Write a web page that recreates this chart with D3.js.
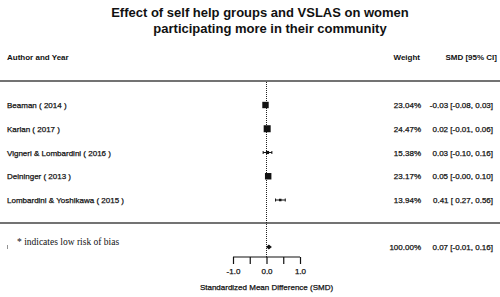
<!DOCTYPE html>
<html lang="en">
<head>
    <meta charset="UTF-8">
    <title>Forest plot</title>
    <script src="https://d3js.org/d3.v7.min.js"></script>
    <style>
        body { margin: 0; background: #fff; }
        svg text { font-family: "Liberation Sans", Arial, sans-serif; fill: #111; }
        .title { font-size: 13px; font-weight: bold; }
        .head { font-size: 8px; font-weight: bold; }
        .row { font-size: 8px; stroke: #111; stroke-width: 0.25px; }
    </style>
</head>
<body>
    <div id="chart"></div>

    <script>
        // study data
        const studies = ["Beaman ( 2014 )", "Karlan ( 2017 )", "Vigneri & Lombardini ( 2016 )",
                         "Deininger ( 2013 )", "Lombardini & Yoshikawa ( 2015 )"];
        const weights = [23.04, 24.47, 15.38, 23.17, 13.94];
        const smd = [-0.03, 0.02, 0.03, 0.05, 0.41];
        const ciLow = [-0.08, -0.01, -0.10, -0.00, 0.27];
        const ciHigh = [0.03, 0.06, 0.16, 0.10, 0.56];

        // pooled estimate
        const pooled = { weight: 100.00, est: 0.07, lo: -0.01, hi: 0.16 };

        const xTicks = [-1.0, -0.5, 0.0, 0.5, 1.0];
        const xTickLabels = ["-1.0", "", "0.0", "", "1.0"];

        const width = 500, height = 297;

        const svg = d3.select("#chart").append("svg")
            .attr("width", width)
            .attr("height", height);

        const x = d3.scaleLinear().domain([-1, 1]).range([233, 300]);
        const y = d3.scalePoint().domain(studies).range([105, 200]);
        const boxSize = d3.scaleLinear().domain([13.94, 24.47]).range([2.5, 7]);

        // plain hyphen minus, and keep the sign of -0.00
        const fmt = v => (v < 0 || Object.is(v, -0) ? "-" : "") + Math.abs(v).toFixed(2);
        const ciText = d => fmt(d.e) + " [" + (d.lo > 0 ? " " : "") + fmt(d.lo) + ", " + fmt(d.hi) + "]";

        // title
        svg.append("text").attr("class", "title")
            .attr("x", 260).attr("y", 17).attr("text-anchor", "middle")
            .text("Effect of self help groups and VSLAS on women");
        svg.append("text").attr("class", "title")
            .attr("x", 270).attr("y", 33).attr("text-anchor", "middle")
            .text("participating more in their community");

        // column headers
        svg.append("text").attr("class", "head").attr("x", 7).attr("y", 60).text("Author and Year");
        svg.append("text").attr("class", "head").attr("x", 420).attr("y", 60).attr("text-anchor", "end").text("Weight");
        svg.append("text").attr("class", "head").attr("x", 497).attr("y", 60).attr("text-anchor", "end").text("SMD [95% CI]");

        // separator lines
        [81, 223].forEach(ly => {
            svg.append("line").attr("x1", 0).attr("x2", 500).attr("y1", ly).attr("y2", ly)
                .attr("stroke", "#444").attr("stroke-width", 1.5);
        });

        // zero reference line
        svg.append("line")
            .attr("x1", x(0)).attr("x2", x(0))
            .attr("y1", 82).attr("y2", 257)
            .attr("stroke", "#222").attr("stroke-width", 1)
            .attr("stroke-dasharray", "1,1");

        const rows = studies.map((s, i) => ({ s, w: weights[i], e: smd[i], lo: ciLow[i], hi: ciHigh[i] }));

        const g = svg.append("g");

        // study labels
        g.selectAll(".lab").data(rows).enter().append("text")
            .attr("class", "row").attr("x", 7).attr("y", d => y(d.s) + 3)
            .text(d => d.s);

        // weights
        g.selectAll(".w").data(rows).enter().append("text")
            .attr("class", "row").attr("x", 421).attr("y", d => y(d.s) + 3)
            .attr("text-anchor", "end")
            .text(d => fmt(d.w) + "%");

        // estimates
        g.selectAll(".ci").data(rows).enter().append("text")
            .attr("class", "row").attr("x", 493).attr("y", d => y(d.s) + 3)
            .attr("text-anchor", "end")
            .text(ciText);

        // CI whiskers with end caps
        g.selectAll(".wh").data(rows).enter().append("path")
            .attr("d", d => "M" + x(d.lo) + "," + y(d.s) + "H" + x(d.hi) +
                "M" + x(d.lo) + "," + (y(d.s) - 1.5) + "v3" +
                "M" + x(d.hi) + "," + (y(d.s) - 1.5) + "v3")
            .attr("fill", "none")
            .attr("stroke", "#111").attr("stroke-width", 1);

        // boxes
        g.selectAll(".box").data(rows).enter().append("rect")
            .attr("x", d => x(d.e) - boxSize(d.w) / 2)
            .attr("y", d => y(d.s) - boxSize(d.w) / 2)
            .attr("width", d => boxSize(d.w))
            .attr("height", d => boxSize(d.w))
            .attr("fill", "#111");

        // pooled diamond
        const py = 247;
        svg.append("polygon")
            .attr("points", [[x(pooled.lo), py], [x(pooled.est), py - 2.5], [x(pooled.hi), py], [x(pooled.est), py + 2.5]].join(" "))
            .attr("fill", "#111");
        svg.append("text").attr("class", "row").attr("x", 421).attr("y", py + 3)
            .attr("text-anchor", "end").text(fmt(pooled.weight) + "%");
        svg.append("text").attr("class", "row").attr("x", 493).attr("y", py + 3)
            .attr("text-anchor", "end")
            .text(ciText({ e: pooled.est, lo: pooled.lo, hi: pooled.hi }));

        // note
        svg.append("text").attr("x", 17).attr("y", 245)
            .style("font-family", "'Liberation Serif', 'Times New Roman', serif")
            .style("font-size", "9.5px")
            .text("* indicates low risk of bias");
        svg.append("line").attr("x1", 7.5).attr("x2", 7.5).attr("y1", 245).attr("y2", 249)
            .attr("stroke", "#777").attr("stroke-width", 0.8);

        // x axis
        const axis = d3.axisBottom(x)
            .tickValues(xTicks)
            .tickSize(7)
            .tickFormat((d, i) => xTickLabels[i]);
        const ax = svg.append("g")
            .attr("transform", "translate(0,257)")
            .call(axis);
        ax.select(".domain").attr("d", "M" + x(-1) + ",0H" + x(1)).attr("stroke", "#111").attr("stroke-width", 1.2);
        ax.selectAll(".tick line").attr("stroke", "#111").attr("stroke-width", 1.2);
        ax.selectAll(".tick text")
            .attr("y", 11)
            .style("font-family", "'Liberation Sans', Arial, sans-serif")
            .style("font-size", "8px")
            .style("stroke", "#111").style("stroke-width", "0.25px")
            .attr("fill", "#111");

        svg.append("text").attr("class", "row")
            .attr("x", x(0)).attr("y", 290).attr("text-anchor", "middle")
            .text("Standardized Mean Difference (SMD)");
    </script>
</body>
</html>
